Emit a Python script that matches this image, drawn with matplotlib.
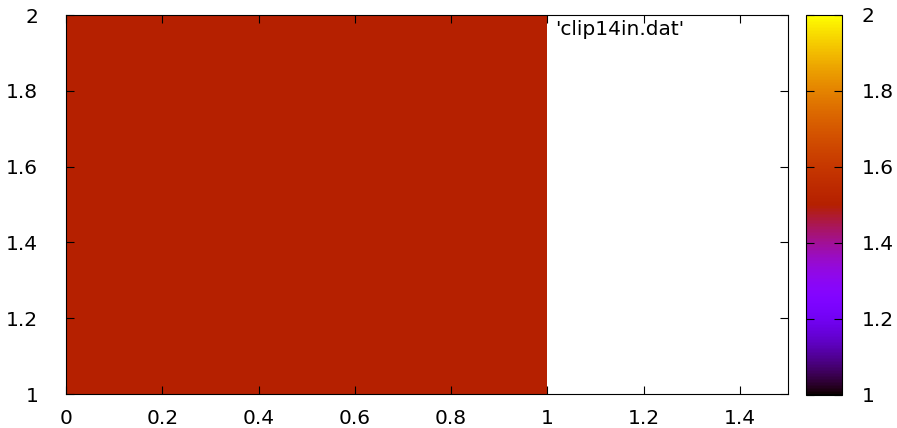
import numpy as np
import matplotlib
matplotlib.use('Agg')
import matplotlib.pyplot as plt

# data: one pm3d cell, edges and value
x_edges = [0.0, 1.0]
y_edges = [1.0, 2.0]
cell_values = [[1.5]]
x_ticks = [0, 0.2, 0.4, 0.6, 0.8, 1, 1.2, 1.4]
y_ticks = [1, 1.2, 1.4, 1.6, 1.8, 2]
cb_ticks = [1, 1.2, 1.4, 1.6, 1.8, 2]
KEY_LABEL = "'clip14in.dat'"

plt.rcParams['font.family'] = 'DejaVu Sans'
plt.rcParams['font.size'] = 14.5

fig = plt.figure(figsize=(8.97, 4.28), dpi=100)
W, H = 897.0, 428.0
ax = fig.add_axes([66 / W, (H - 394) / H, 722 / W, 379 / H])
cax = fig.add_axes([806 / W, (H - 395) / H, 36 / W, 380 / H])

mesh = ax.pcolormesh(x_edges, y_edges, np.array(cell_values), cmap='gnuplot',
                     vmin=1, vmax=2, shading='flat')

ax.set_xlim(0, 1.5)
ax.set_ylim(1, 2)
ax.set_xticks(x_ticks)
ax.set_yticks(y_ticks)
ax.set_xticklabels(['0', '0.2', '0.4', '0.6', '0.8', '1', '1.2', '1.4'])
ax.set_yticklabels(['1', '1.2', '1.4', '1.6', '1.8', '2'])
ax.tick_params(direction='in', length=6, width=0.8, top=True, right=True, color='black')
ax.tick_params(axis='x', pad=11)
ax.tick_params(axis='y', pad=20)
for s in ax.spines.values():
    s.set_linewidth(0.8)

ax.text((555 - 66) / 722.0, (394 - 35) / 379.0, KEY_LABEL, transform=ax.transAxes,
        ha='left', va='baseline')

cb = fig.colorbar(mesh, cax=cax, ticks=cb_ticks)
cb.ax.set_yticklabels(['1', '1.2', '1.4', '1.6', '1.8', '2'])
cb.ax.tick_params(direction='in', length=6, width=0.8, left=True, right=True, pad=14)
cb.outline.set_linewidth(0.8)

fig.savefig('out.png', dpi=100)
